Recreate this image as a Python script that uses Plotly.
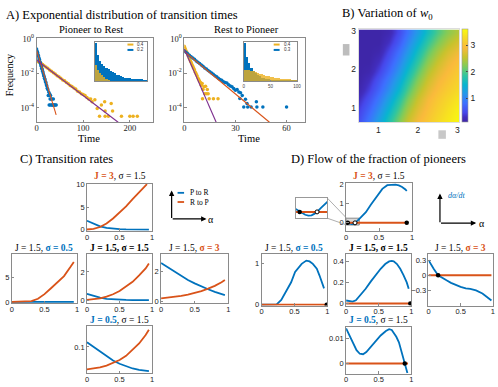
import numpy as np
import plotly.graph_objects as go

W, H = 498, 387
BLUE = "#0072BD"
ORANGE = "#D95319"
YELLOW = "#EDB120"
PURPLE = "#7E2F8E"
SERIF = "Liberation Serif"
SANS = "Liberation Sans"

# ---------------- A) transition times: (time, log10 frequency) ----------------
pr_blue = [(0, -0.6), (1, -0.72), (2, -0.8), (3, -0.93), (4, -1.0), (5, -1.12), (6, -1.2),
           (7, -1.33), (8, -1.4), (9, -1.52), (10, -1.6), (11, -1.72), (12, -1.8), (13, -1.9),
           (14, -2.0), (15, -2.1), (16, -2.18), (17, -2.3), (18, -2.38), (19, -2.5), (20, -2.55),
           (21, -2.68), (22, -2.75), (23, -2.88), (24, -2.95), (25, -3.3), (26, -3.1), (27, -3.3),
           (28, -3.2), (29, -3.5), (30, -3.3), (31, -3.5), (32, -3.85), (33, -3.5), (34, -3.85),
           (35, -3.85), (36, -3.5), (37, -3.85), (38, -3.85), (40, -3.85), (42, -3.85),
           (27, -3.85), (29, -3.85)]
pr_yellow = [(1, -1.3), (3, -1.33), (5, -1.36), (7, -1.4), (9, -1.43), (11, -1.47), (13, -1.5),
             (16, -1.57), (20, -1.65), (24, -1.72), (28, -1.82), (32, -1.9), (36, -1.98),
             (40, -2.05), (44, -2.15), (48, -2.22), (52, -2.3), (56, -2.4), (60, -2.45),
             (64, -2.55), (68, -2.62), (72, -2.72), (76, -2.78), (80, -2.87), (84, -2.92),
             (88, -3.05), (92, -3.1), (96, -3.2), (100, -3.25), (104, -3.3), (108, -3.42),
             (112, -3.5), (116, -3.5), (119, -3.66), (125, -3.55), (130, -4.06), (135, -4.5),
             (139, -3.85), (146, -3.66), (147, -4.2), (147, -4.5), (154, -4.5), (160, -3.77),
             (163, -4.2), (182, -4.5), (200, -4.5), (207, -4.5), (216, -4.5)]
pr_fit_orange = [(0, -0.67), (42, -4.42)]
pr_fit_purple = [(0, -1.24), (175, -4.85)]

rp_yellow = [(0, -0.45), (0.5, -0.58), (1, -0.7), (1.5, -0.8), (2, -0.92), (2.5, -1.03),
             (3, -1.15), (3.5, -1.27), (4, -1.38), (4.5, -1.5), (5, -1.6), (5.5, -1.72),
             (6, -1.82), (6.5, -1.95), (7, -2.05), (7.5, -2.15), (8, -2.28), (8.5, -2.38),
             (9, -2.48), (9.5, -2.55), (10, -2.7), (10.5, -2.6), (11, -2.95), (11.5, -2.8),
             (12, -3.2), (12.5, -2.76), (13, -3.2), (13.5, -2.95), (14, -3.2), (10.7, -3.49),
             (14.6, -3.49), (17.1, -3.49), (19.8, -3.49)]
rp_blue = [(0, -0.72), (1, -0.8), (2, -0.88), (3, -0.97), (4, -1.05), (5, -1.13), (6, -1.2),
           (7, -1.3), (8, -1.37), (9, -1.45), (10, -1.53), (11, -1.6), (12, -1.7), (13, -1.76),
           (14, -1.85), (15, -1.92), (16, -2.0), (17, -2.07), (18, -2.15), (19, -2.22),
           (20, -2.3), (21, -2.38), (22, -2.42), (23, -2.5), (24, -2.55), (25, -2.57),
           (26, -2.68), (27, -2.75), (28, -2.8), (29, -2.9), (30, -3.0), (31, -2.95),
           (32, -3.1), (33, -3.14), (32.6, -3.48), (34, -3.3), (35.9, -3.52), (34.9, -3.97),
           (36.8, -3.77), (37.2, -3.97), (39.2, -3.97), (42.3, -3.66), (42.6, -3.97),
           (46.1, -3.97), (60, -3.97)]
rp_fit_orange = [(0, -0.75), (50, -4.85)]
rp_fit_purple = [(0, -0.6), (18.7, -4.85)]

# inset histograms (normalised heights)
ins_pr_blue = [1.0, 0.7, 0.52, 0.46, 0.4, 0.35, 0.31, 0.27, 0.23, 0.2, 0.17, 0.15, 0.13,
               0.11, 0.09, 0.08, 0.07, 0.065, 0.06, 0.05, 0.048, 0.045, 0.043, 0.041, 0.04]
ins_pr_yellow = [0.42, 0.3, 0.2, 0.15, 0.12, 0.05, 0.02] + [0] * 18
ins_rp_blue = [1.0, 0.65, 0.48, 0.36, 0.28, 0.22, 0.16, 0.13, 0.1, 0.08, 0.065, 0.05, 0.04,
               0.035, 0.03, 0.028, 0.025, 0.022, 0.02, 0.02, 0.018, 0.017, 0.016, 0.015, 0.014]
ins_rp_yellow = [0.3, 0.3, 0.29, 0.28, 0.26, 0.24, 0.22, 0.2, 0.18, 0.16, 0.15, 0.13, 0.12,
                 0.11, 0.1, 0.09, 0.08, 0.075, 0.07, 0.06, 0.055, 0.05, 0.045, 0.04, 0.035]

# ---------------- B) w0 heatmap ----------------
w0_x = [0.5, 0.75, 1.0, 1.25, 1.5, 1.75, 2.0, 2.25, 2.5, 2.75, 3.0]
w0_y = [0.7, 0.95, 1.2, 1.45, 1.7, 1.95, 2.2, 2.45, 2.7, 2.95]
w0_z = [
    [0.5, 0.85, 1.25, 1.7, 2.15, 2.55, 2.85, 3.05, 3.25, 3.4, 3.55],
    [0.4, 0.7, 1.07, 1.5, 1.95, 2.38, 2.72, 2.96, 3.16, 3.33, 3.48],
    [0.28, 0.55, 0.89, 1.3, 1.75, 2.19, 2.58, 2.87, 3.07, 3.24, 3.38],
    [0.15, 0.4, 0.72, 1.1, 1.53, 1.99, 2.41, 2.74, 2.96, 3.13, 3.27],
    [0.1, 0.28, 0.58, 0.93, 1.34, 1.79, 2.23, 2.59, 2.85, 3.02, 3.17],
    [0.1, 0.15, 0.42, 0.75, 1.15, 1.59, 2.04, 2.44, 2.72, 2.92, 3.08],
    [0.1, 0.1, 0.28, 0.6, 0.97, 1.38, 1.83, 2.25, 2.56, 2.8, 2.97],
    [0.1, 0.1, 0.15, 0.45, 0.8, 1.18, 1.63, 2.05, 2.38, 2.64, 2.82],
    [0.1, 0.1, 0.1, 0.3, 0.62, 1.01, 1.43, 1.85, 2.18, 2.45, 2.65],
    [0.1, 0.1, 0.1, 0.18, 0.48, 0.84, 1.23, 1.64, 1.98, 2.25, 2.45],
]
parula = [[0.0, "rgb(62,38,168)"], [0.05, "rgb(66,46,190)"], [0.1, "rgb(71,71,235)"],
          [0.2, "rgb(62,111,255)"], [0.3, "rgb(39,150,235)"], [0.4, "rgb(8,181,208)"],
          [0.5, "rgb(49,198,159)"], [0.6, "rgb(129,204,89)"], [0.7, "rgb(200,195,45)"],
          [0.8, "rgb(250,186,60)"], [0.9, "rgb(246,216,40)"], [1.0, "rgb(249,251,14)"]]

# ---------------- C) transition rates ----------------
a_c = [0, 0.1, 0.2, 0.3, 0.4, 0.5, 0.6, 0.7, 0.8, 0.9, 0.95]
c_j3_pr = [2.0, 1.3, 0.75, 0.4, 0.22, 0.12, 0.07, 0.04, 0.03, 0.02, 0.02]
c_j3_rp_a = [0, 0.1, 0.2, 0.3, 0.4, 0.5, 0.6, 0.7, 0.8, 0.9, 0.92]
c_j3_rp = [0.05, 0.2, 0.6, 1.4, 2.5, 3.8, 5.2, 6.8, 8.4, 9.9, 10.1]
c_s05_pr = [0.02, 0.02, 0.01, 0.01, 0.01, 0.01, 0, 0, 0, 0, 0]
c_s05_rp = [0, 0, 0.02, 0.15, 0.65, 1.6, 2.8, 4.0, 5.3, 7.2, 8.2]
c_s15_pr = [0.45, 0.3, 0.18, 0.1, 0.06, 0.035, 0.02, 0.01, 0.01, 0.005, 0.005]
c_s15_rp = [0.03, 0.06, 0.13, 0.25, 0.42, 0.65, 0.95, 1.3, 1.75, 2.25, 2.6]
c_s3_pr = [2.6, 2.3, 2.0, 1.72, 1.45, 1.22, 1.0, 0.82, 0.65, 0.5, 0.42]
c_s3_rp = [0.2, 0.24, 0.3, 0.37, 0.46, 0.57, 0.7, 0.86, 1.05, 1.3, 1.45]
c_j05_pr = [0.118, 0.1, 0.082, 0.063, 0.048, 0.036, 0.026, 0.018, 0.013, 0.009, 0.008]
c_j05_rp = [0.015, 0.018, 0.022, 0.029, 0.038, 0.05, 0.066, 0.088, 0.113, 0.145, 0.165]

# ---------------- D) flow d alpha / dt ----------------
d_j3_a = [0, 0.02, 0.04, 0.06, 0.08, 0.1, 0.12, 0.135, 0.16, 0.19, 0.25, 0.3, 0.375, 0.45,
          0.5, 0.55, 0.625, 0.7, 0.75, 0.8, 0.85, 0.9, 0.92]
d_j3_v = [0.05, 0.02, -0.02, -0.05, -0.065, -0.06, -0.03, 0.0, 0.07, 0.17, 0.37, 0.55, 0.93,
          1.3, 1.55, 1.75, 1.94, 1.98, 1.97, 1.93, 1.85, 1.72, 1.64]
d_j3_fixed = [0.025, 0.92]
d_j3_unstable = [0.135]
d_s05_a = [0, 0.1, 0.2, 0.23, 0.3, 0.36, 0.45, 0.51, 0.61, 0.68, 0.73, 0.78, 0.84, 0.88, 0.92, 0.95]
d_s05_v = [0, 0, 0, 0.01, 0.12, 0.28, 0.55, 0.8, 1.0, 1.08, 1.06, 1.0, 0.88, 0.72, 0.55, 0.4]
d_s05_fixed = [0.99]
d_s15_a = [0, 0.05, 0.1, 0.15, 0.23, 0.3, 0.38, 0.45, 0.53, 0.6, 0.66, 0.7, 0.73, 0.78, 0.83,
           0.88, 0.93, 0.96]
d_s15_v = [0.028, 0.02, 0.017, 0.03, 0.084, 0.14, 0.21, 0.27, 0.33, 0.375, 0.4, 0.405, 0.4,
           0.375, 0.33, 0.27, 0.2, 0.14]
d_s15_fixed = [0.985]
d_s3_a = [0, 0.04, 0.08, 0.15, 0.22, 0.28, 0.35, 0.43, 0.5, 0.58, 0.65, 0.74, 0.8, 0.84, 0.9,
          0.94, 0.98]
d_s3_v = [0.3, 0.2, 0.13, 0.0, -0.06, -0.1, -0.15, -0.2, -0.23, -0.26, -0.27, -0.3, -0.33,
          -0.36, -0.42, -0.46, -0.5]
d_s3_fixed = [0.15]
d_j05_a = [0, 0.05, 0.11, 0.16, 0.21, 0.26, 0.31, 0.38, 0.46, 0.53, 0.61, 0.66, 0.7, 0.73,
           0.77, 0.81, 0.84, 0.87, 0.9, 0.92, 0.94]
d_j05_v = [0.0138, 0.011, 0.0077, 0.0052, 0.0038, 0.0036, 0.0045, 0.0065, 0.009, 0.011,
           0.0128, 0.0135, 0.0132, 0.012, 0.0105, 0.0083, 0.0055, 0.0026, 0.0, -0.002, -0.0038]
d_j05_fixed = [0.9]

# ---------------- layout: axes boxes in pixels (x0, x1, y0, y1) ----------------
boxes = {
    1: (35, 153, 34, 120), 2: (94, 147, 38, 78),
    3: (184.5, 307, 34, 120), 4: (244.7, 298.7, 38, 78.3),
    5: (361, 463, 25, 120),
    6: (86, 152, 183, 231), 7: (10, 76, 255, 305), 8: (86, 152, 255, 305),
    9: (161, 229, 255, 305), 10: (86, 152, 329, 377),
    11: (348.3, 415, 182.3, 231), 12: (297.3, 329.3, 197.7, 218.3),
    13: (262.7, 329.3, 255, 307.7), 14: (348.3, 414.3, 255, 307.7),
    15: (431.7, 496.7, 255, 307.7), 16: (348.3, 414.3, 329.3, 377.3),
}


def px(x):
    return x / W


def py(y):
    return 1 - y / H


def ax(k):
    s = "" if k == 1 else str(k)
    return "x" + s, "y" + s


layout = dict(width=W, height=H, margin=dict(l=0, r=0, t=0, b=0), paper_bgcolor="white",
              plot_bgcolor="white", showlegend=False, barmode="overlay", bargap=0)
base = dict(showline=True, mirror=True, linecolor="#8a8a8a", linewidth=0.8, ticks="inside",
            ticklen=2.5, tickcolor="#8a8a8a", showgrid=False, zeroline=False,
            tickfont=dict(family=SANS, size=7.5, color="#222"))
for k, (x0, x1, y0, y1) in boxes.items():
    xa, ya = ax(k)
    layout["xaxis" + xa[1:]] = dict(base, domain=[px(x0), px(x1)], anchor=ya)
    layout["yaxis" + ya[1:]] = dict(base, domain=[py(y1), py(y0)], anchor=xa)

fig = go.Figure()


def line(k, x, y, color, width=1.8):
    xa, ya = ax(k)
    fig.add_trace(go.Scatter(x=x, y=y, mode="lines", line=dict(color=color, width=width),
                             xaxis=xa, yaxis=ya))


def dots(k, x, y, color, size=4, open_=False):
    xa, ya = ax(k)
    fig.add_trace(go.Scatter(x=x, y=y, mode="markers", xaxis=xa, yaxis=ya,
                             marker=dict(color="white" if open_ else color, size=size,
                                         line=dict(color=color, width=1 if open_ else 0))))


def unzip(pairs):
    t = [p[0] for p in pairs]
    f = [10 ** p[1] for p in pairs]
    return t, f


# ---- A plots ----
for k, bl, yl, fo, fp in [(1, pr_blue, pr_yellow, pr_fit_orange, pr_fit_purple),
                          (3, rp_blue, rp_yellow, rp_fit_orange, rp_fit_purple)]:
    dots(k, *unzip(yl), YELLOW, size=3.5)
    dots(k, *unzip(bl), BLUE, size=3.5)
    line(k, *unzip(fo), ORANGE, width=1.1)
    line(k, *unzip(fp), PURPLE, width=1.1)
    xa, ya = ax(k)
    layout["yaxis" + ya[1:]].update(type="log", range=[-4.85, 0.02], tickvals=[1, 1e-2, 1e-4],
                                    ticktext=["10<sup>0</sup>", "10<sup>-2</sup>", "10<sup>-4</sup>"],
                                    tickfont=dict(family=SERIF, size=8.5, color="#222"))
    layout["xaxis" + xa[1:]].update(tickfont=dict(family=SERIF, size=8.5, color="#222"))
layout["xaxis"].update(range=[0, 250], tickvals=[0, 100, 200])
layout["xaxis3"].update(range=[0, 71], tickvals=[0, 30, 60])

# insets
for k, b, yv, n, wbin, xr in [(2, ins_pr_blue, ins_pr_yellow, 25, 1, [0, 25]),
                              (4, ins_rp_blue, ins_rp_yellow, 25, 4, [0, 100])]:
    xa, ya = ax(k)
    xs = [wbin * (i + 0.5) for i in range(n)]
    fig.add_trace(go.Bar(x=xs, y=b, width=wbin, marker=dict(color=BLUE, line=dict(width=0)),
                         xaxis=xa, yaxis=ya))
    fig.add_trace(go.Bar(x=xs, y=yv, width=wbin, opacity=0.8,
                         marker=dict(color=YELLOW, line=dict(width=0)), xaxis=xa, yaxis=ya))
    layout["xaxis" + xa[1:]].update(range=xr, showticklabels=False, ticks="")
    layout["yaxis" + ya[1:]].update(range=[0, 1.03], showticklabels=False, ticks="")
layout["xaxis4"].update(showticklabels=True, tickvals=[0, 50, 100], ticks="inside", ticklen=1.5,
                        tickfont=dict(family=SANS, size=4.5, color="#444"))

# ---- B heatmap ----
fig.add_trace(go.Heatmap(x=w0_x, y=w0_y, z=w0_z, colorscale=parula, zmin=0.1, zmax=3.6,
                         zsmooth="best", xaxis="x5", yaxis="y5",
                         colorbar=dict(x=px(466), xanchor="left", y=py(72.5), yanchor="middle",
                                       len=95 / H, lenmode="fraction", thickness=6,
                                       thicknessmode="pixels", outlinewidth=0.6,
                                       outlinecolor="#999", tickvals=[1, 2, 3], ticks="inside",
                                       ticklen=2, xpad=0, ypad=0,
                                       tickfont=dict(family=SANS, size=8.5, color="#222"))))
layout["xaxis5"].update(range=[0.5, 3.05], tickvals=[1, 2, 3], ticks="", linecolor="#ddd",
                        tickfont=dict(family=SANS, size=8.5, color="#222"))
layout["yaxis5"].update(range=[0.62, 3.03], tickvals=[1, 2, 3], ticks="", linecolor="#ddd",
                        tickfont=dict(family=SANS, size=8.5, color="#222"))

# ---- C plots ----
line(6, a_c, c_j3_pr, BLUE)
line(6, c_j3_rp_a, c_j3_rp, ORANGE)
line(7, a_c, c_s05_pr, BLUE)
line(7, a_c, c_s05_rp, ORANGE)
line(8, a_c, c_s15_pr, BLUE)
line(8, a_c, c_s15_rp, ORANGE)
line(9, a_c, c_s3_pr, BLUE)
line(9, a_c, c_s3_rp, ORANGE)
line(10, a_c, c_j05_pr, BLUE)
line(10, a_c, c_j05_rp, ORANGE)

# ---- D plots ----
for k, a, v, fixed, amax in [(11, d_j3_a, d_j3_v, d_j3_fixed, 0.92),
                             (12, d_j3_a, d_j3_v, d_j3_fixed, 0.92),
                             (13, d_s05_a, d_s05_v, d_s05_fixed, 0.99),
                             (14, d_s15_a, d_s15_v, d_s15_fixed, 0.985),
                             (15, d_s3_a, d_s3_v, d_s3_fixed, 0.98),
                             (16, d_j05_a, d_j05_v, d_j05_fixed, 0.95)]:
    line(k, a, v, BLUE)
    line(k, [0, amax], [0, 0], ORANGE, width=2)
    dots(k, fixed, [0] * len(fixed), "black", size=4.5)
for k in (11, 12):
    dots(k, d_j3_unstable, [0], "black", size=4, open_=True)

unit = dict(range=[0, 1], tickvals=[0, 0.5, 1], ticktext=["0", "0.5", "1"])
for k in (6, 7, 8, 9, 10, 11, 13, 14, 15, 16):
    layout["xaxis" + str(k)].update(unit)
yr = {6: ([-0.2, 10.2], [0, 5, 10]), 7: ([-0.2, 9.8], [0, 5]), 8: ([-0.19, 3.26], [0, 2]),
      9: ([-0.1, 3.2], [0, 2]), 10: ([0, 0.178], [0.1]), 11: ([-0.4, 2.05], [0, 1, 2]),
      13: ([-0.02, 1.24], [0, 1]), 14: ([-0.02, 0.47], [0, 0.2, 0.4]),
      15: ([-0.6, 0.42], [-0.3, 0, 0.3]), 16: ([-0.004, 0.0145], [0, 0.01])}
for k, (r, tv) in yr.items():
    layout["yaxis" + str(k)].update(range=r, tickvals=tv)
layout["xaxis12"].update(range=[0, 0.2], showticklabels=False, ticks="", linecolor="#999")
layout["yaxis12"].update(range=[-0.11, 0.24], showticklabels=False, ticks="", linecolor="#999")

# ---------------- annotations and shapes ----------------
ann = []
shapes = []


def text(x, y, s, size=10, family=SERIF, color="black", xanchor="center", angle=0):
    ann.append(dict(x=px(x), y=py(y), xref="paper", yref="paper", text=s, showarrow=False,
                    xanchor=xanchor, yanchor="middle", textangle=angle,
                    font=dict(family=family, size=size, color=color)))


def arrow(x0, y0, x1, y1):
    ann.append(dict(x=px(x1), y=py(y1), xref="paper", yref="paper", ax=x0 - x1, ay=y0 - y1,
                    axref="pixel", ayref="pixel", text="", showarrow=True, arrowhead=2,
                    arrowsize=0.9, arrowwidth=1.2, arrowcolor="black"))


def seg(x0, y0, x1, y1, color, width=1.0):
    shapes.append(dict(type="line", xref="paper", yref="paper", x0=px(x0), y0=py(y0),
                       x1=px(x1), y1=py(y1), line=dict(color=color, width=width)))


text(2, 10, "A) Exponential distribution of transition times", 12.5, xanchor="left")
text(342, 9, "B) Variation of <i>w</i><sub>0</sub>", 12.5, xanchor="left")
text(16, 158, "C) Transition rates", 12.5, xanchor="left")
text(290, 158, "D) Flow of the fraction of pioneers", 12.5, xanchor="left")

text(90, 25, "Pioneer to Rest", 10.5)
text(247, 25, "Rest to Pioneer", 10.5)
text(88, 137, "Time", 10.5)
text(250, 137, "Time", 10.5)
text(7, 72, "Frequency", 10, angle=-90)

# inset legends
for lx, lab in [(127, "0.2"), (275, "0.3")]:
    seg(lx, 40.5, lx + 6, 40.5, YELLOW, 2)
    seg(lx, 46, lx + 6, 46, BLUE, 2)
    text(lx + 8, 40.5, "0.4", 4.5, SANS, "#333", xanchor="left")
    text(lx + 8, 46, lab, 4.5, SANS, "#333", xanchor="left")

c_or = "<b style='color:%s'>%%s</b>" % ORANGE
c_bl = "<b style='color:%s'>%%s</b>" % BLUE
text(119, 175, c_or % "J = 3" + ", σ = 1.5", 9.5)
text(43, 249, "J = 1.5, " + c_bl % "σ = 0.5", 9.5)
text(119, 249, "<b>J = 1.5, σ = 1.5</b>", 9.5)
text(195, 249, "J = 1.5, " + c_or % "σ = 3", 9.5)
text(119, 322.5, c_bl % "J = 0.5" + ", σ = 1.5", 9.5)
text(381.7, 175, c_or % "J = 3" + ", σ = 1.5", 9.5)
text(296, 249, "J = 1.5, " + c_bl % "σ = 0.5", 9.5)
text(381.3, 249, "<b>J = 1.5, σ = 1.5</b>", 9.5)
text(464, 249, "J = 1.5, " + c_or % "σ = 3", 9.5)
text(381.3, 322.5, c_bl % "J = 0.5" + ", σ = 1.5", 9.5)

# C legend and axes sketch
seg(177.7, 192.3, 184.3, 192.3, BLUE, 1.8)
seg(177.7, 201.7, 184.3, 201.7, ORANGE, 1.8)
text(188, 192.3, "P to R", 7.5, xanchor="left")
text(188, 201.7, "R to P", 7.5, xanchor="left")
arrow(171.7, 219, 171.7, 190)
arrow(171.7, 219, 207, 219)
text(212, 220, "α", 10)

# D axes sketch
arrow(443.3, 223.3, 443.3, 193)
arrow(443.3, 223.3, 480, 223.3)
text(486, 224, "α", 10)
text(449, 195, "<i>dα/dt</i>", 8, color=BLUE, xanchor="left")

# zoom indicator in D top
shapes.append(dict(type="rect", xref="x11", yref="y11", x0=0, x1=0.2, y0=-0.11, y1=0.24,
                   fillcolor="rgba(150,150,150,0.35)", line=dict(color="#888", width=1),
                   layer="below"))
seg(329.3, 197.7, 348.3, 217.7, "#999", 0.8)
seg(329.3, 218.3, 348.3, 225, "#999", 0.8)

# grey placeholder marks next to heatmap
shapes.append(dict(type="rect", xref="paper", yref="paper", x0=px(345), x1=px(351.7),
                   y0=py(51.7), y1=py(40), fillcolor="#bdbdbd", line=dict(width=0)))
shapes.append(dict(type="rect", xref="paper", yref="paper", x0=px(441.7), x1=px(449.3),
                   y0=py(137), y1=py(128.3), fillcolor="#c8c8c8", line=dict(width=0)))

layout["annotations"] = ann
layout["shapes"] = shapes
fig.update_layout(layout)

# pull x tick labels a little closer to the axes, as in the reference
try:
    fig.update_layout(xaxis_ticklabelstandoff=-2, xaxis3_ticklabelstandoff=-2)
    for k in (6, 7, 8, 9, 10, 11, 13, 14, 15, 16):
        fig.update_layout({"xaxis%d" % k: dict(ticklabelstandoff=-1)})
except ValueError:
    pass

# the page body has a default 8px margin; remove it so the figure fills the window
fig.write_html("out.html", config={"displayModeBar": False},
               post_script="document.body.style.margin='0';")
